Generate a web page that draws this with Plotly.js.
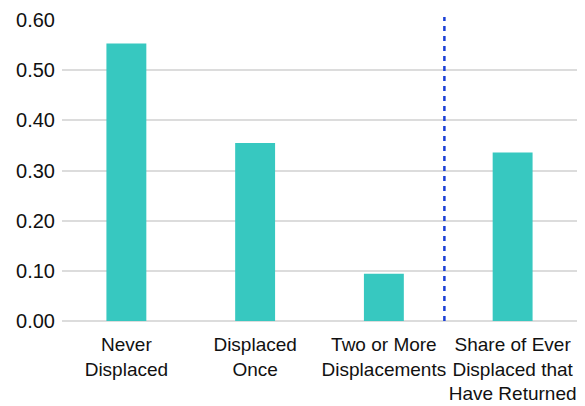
<!DOCTYPE html>
<html>
<head>
<meta charset="utf-8">
<script src="https://cdn.plot.ly/plotly-3.0.1.min.js"></script>
<style>html,body{margin:0;padding:0;background:#fff}#chart{width:585px;height:406px}</style>
</head>
<body>
<div id="chart"></div>
<script>
const categories = ["Never<br>Displaced", "Displaced<br>Once", "Two or More<br>Displacements", "Share of Ever<br>Displaced that<br>Have Returned"];
const values = [0.553, 0.355, 0.094, 0.336];
const yTicks = [0, 0.1, 0.2, 0.3, 0.4, 0.5, 0.6];
const dividerPosition = 2.47;

const FONT = '"Liberation Sans", Arial, sans-serif';

Plotly.newPlot('chart', [{
  type: 'bar',
  x: [0, 1, 2, 3],
  y: values,
  marker: {color: '#37c8c0'},
  hoverinfo: 'none'
}], {
  width: 585, height: 406,
  margin: {l: 62, r: 8, t: 20, b: 85},
  paper_bgcolor: '#fff', plot_bgcolor: '#fff',
  bargap: 0.69,
  showlegend: false,
  font: {family: FONT, size: 19, color: '#111'},
  xaxis: {
    tickmode: 'array', tickvals: [0, 1, 2, 3], ticktext: categories,
    range: [-0.5, 3.5], showgrid: false, zeroline: false, showline: false,
    ticks: '', tickfont: {family: FONT, size: 19, color: '#111'}, fixedrange: true,
    ticklabelstandoff: 10
  },
  yaxis: {
    range: [0, 0.6], tickmode: 'array', tickvals: yTicks,
    tickformat: '.2f', showgrid: true, gridcolor: '#dcdcdc', gridwidth: 2,
    zeroline: true, zerolinecolor: '#dcdcdc', zerolinewidth: 2, showline: false,
    ticks: '', tickfont: {family: FONT, size: 20, color: '#111'}, fixedrange: true,
    ticklabelstandoff: 6
  },
  shapes: [{
    type: 'line', xref: 'x', yref: 'paper', x0: dividerPosition, x1: dividerPosition, y0: 0, y1: 1.01,
    line: {color: '#1a3fd6', width: 2.5, dash: '5px,5px'}
  }]
}, {displayModeBar: false, staticPlot: true});
</script>
</body>
</html>
